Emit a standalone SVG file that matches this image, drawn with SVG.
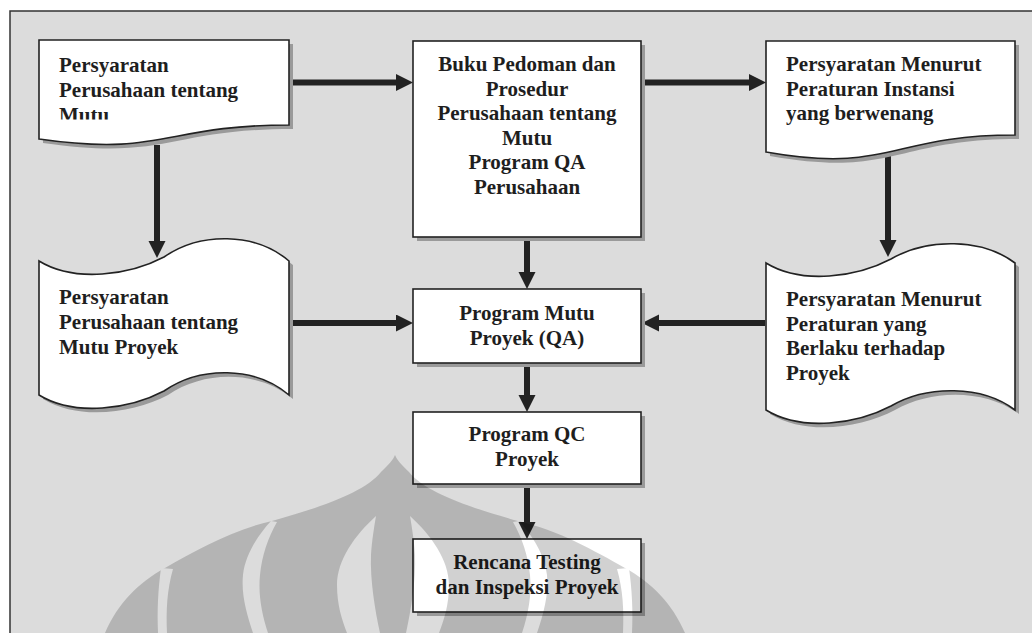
<svg xmlns="http://www.w3.org/2000/svg" width="1032" height="633" viewBox="0 0 1032 633">
  <style>
    .shape { fill: #ffffff; stroke: #222222; stroke-width: 1.6; }
    .shade { fill: #9a9a9a; }
    .label { font-family: "Liberation Serif", "Times New Roman", serif; font-weight: bold; font-size: 21px; fill: #1e1e1e; }
    .mid { text-anchor: middle; }
    .flow { stroke: #222222; stroke-width: 6; fill: none; }
  </style>
  <defs>
    <marker id="head" markerUnits="userSpaceOnUse" markerWidth="18" markerHeight="18" refX="0" refY="8.5" orient="auto">
      <path d="M0,0 L17,8.5 L0,17 Z" fill="#222222"/>
    </marker>
    <clipPath id="doc1-clip">
      <rect x="39" y="40" width="250" height="79.5"/>
    </clipPath>
    <!-- cut-outs of the emblem: light bands between the petals -->
    <mask id="emblem-cut">
      <rect x="0" y="0" width="1032" height="633" fill="#fff"/>
      <path fill="#000" d="M161,568 C158,590 157,610 158,633 L167,633 C166,610 167,590 173,569 Z"/>
      <path fill="#000" d="M629,568 C632,590 633,610 632,633 L623,633 C624,610 623,590 617,569 Z"/>
      <path fill="#000" d="M271,521 C258,535 245,555 243,575 C241,595 247,615 253,633 L268,633 C262,615 258,595 260,575 C262,555 268,538 277,522 Z"/>
      <path fill="#000" d="M519,521 C532,535 545,555 547,575 C549,595 543,615 537,633 L522,633 C528,615 532,595 530,575 C528,555 522,538 513,522 Z"/>
      <path fill="#000" d="M376,516 C355,535 337,560 337,585 C337,605 342,620 347,633 L380,633 C375,610 370,580 371,555 C372,540 374,528 376,516 Z"/>
      <path fill="#000" d="M410,516 C412,528 414,540 415,555 C416,580 411,610 406,633 L439,633 C444,620 449,605 449,585 C449,560 431,535 410,516 Z"/>
    </mask>
  </defs>

  <!-- page and frame -->
  <rect x="0" y="0" width="1032" height="633" fill="#ffffff"/>
  <rect x="10" y="11" width="1040" height="640" fill="#dcdcdc" stroke="#333333" stroke-width="1.5"/>

  <!-- connectors -->
  <g id="connectors">
    <line class="flow" x1="290" y1="82.5" x2="396" y2="82.5" marker-end="url(#head)"/>
    <line class="flow" x1="642" y1="82.5" x2="749" y2="82.5" marker-end="url(#head)"/>
    <line class="flow" x1="157" y1="145" x2="157" y2="241" marker-end="url(#head)"/>
    <line class="flow" x1="888" y1="156" x2="888" y2="240" marker-end="url(#head)"/>
    <line class="flow" x1="527" y1="238" x2="527" y2="272" marker-end="url(#head)"/>
    <line class="flow" x1="290" y1="323" x2="396" y2="323" marker-end="url(#head)"/>
    <line class="flow" x1="765" y1="323" x2="659" y2="323" marker-end="url(#head)"/>
    <line class="flow" x1="527" y1="364" x2="527" y2="395" marker-end="url(#head)"/>
    <line class="flow" x1="527" y1="485" x2="527" y2="522" marker-end="url(#head)"/>
  </g>

  <!-- company quality requirements (document) -->
  <g id="doc-company-quality">
    <path class="shade" transform="translate(4,4)" d="M39,40 H289 V125 C164,125 164,157 39,139 Z"/>
    <path class="shape" d="M39,40 H289 V125 C164,125 164,157 39,139 Z"/>
    <g clip-path="url(#doc1-clip)">
      <text class="label" x="59" y="71.5">Persyaratan</text>
      <text class="label" x="59" y="96.5">Perusahaan tentang</text>
      <text class="label" x="59" y="121.5">Mutu</text>
    </g>
  </g>

  <!-- company manual and procedures -->
  <g id="box-manual">
    <rect class="shade" x="417" y="45" width="228" height="196"/>
    <rect class="shape" x="413" y="41" width="228" height="196"/>
    <text class="label mid" x="527" y="71">Buku Pedoman dan</text>
    <text class="label mid" x="527" y="95.5">Prosedur</text>
    <text class="label mid" x="527" y="120">Perusahaan tentang</text>
    <text class="label mid" x="527" y="144.5">Mutu</text>
    <text class="label mid" x="527" y="169">Program QA</text>
    <text class="label mid" x="527" y="193.5">Perusahaan</text>
  </g>

  <!-- authority regulations (document) -->
  <g id="doc-authority">
    <path class="shade" transform="translate(4,4)" d="M766,41 H1015 V135 C890,135 890,174 766,152 Z"/>
    <path class="shape" d="M766,41 H1015 V135 C890,135 890,174 766,152 Z"/>
    <text class="label" x="786" y="71">Persyaratan Menurut</text>
    <text class="label" x="786" y="95.5">Peraturan Instansi</text>
    <text class="label" x="786" y="120">yang berwenang</text>
  </g>

  <!-- project quality requirements (tape) -->
  <g id="tape-project-quality">
    <path class="shade" transform="translate(4,4)" d="M39,261 C75,283 130,275 164,257 C200,232 255,232 289,261 V395 C255,366 200,366 164,391 C130,409 75,417 39,395 Z"/>
    <path class="shape" d="M39,261 C75,283 130,275 164,257 C200,232 255,232 289,261 V395 C255,366 200,366 164,391 C130,409 75,417 39,395 Z"/>
    <text class="label" x="59" y="304">Persyaratan</text>
    <text class="label" x="59" y="329">Perusahaan tentang</text>
    <text class="label" x="59" y="354">Mutu Proyek</text>
  </g>

  <!-- project regulations (tape) -->
  <g id="tape-project-regulations">
    <path class="shade" transform="translate(4,4)" d="M766,263 C802,285 857,277 891,259 C927,238 982,238 1015,263 V410 C982,385 927,385 891,406 C857,424 802,432 766,410 Z"/>
    <path class="shape" d="M766,263 C802,285 857,277 891,259 C927,238 982,238 1015,263 V410 C982,385 927,385 891,406 C857,424 802,432 766,410 Z"/>
    <text class="label" x="786" y="306">Persyaratan Menurut</text>
    <text class="label" x="786" y="330.5">Peraturan yang</text>
    <text class="label" x="786" y="355">Berlaku terhadap</text>
    <text class="label" x="786" y="379.5">Proyek</text>
  </g>

  <!-- project quality programme -->
  <g id="box-qa">
    <rect class="shade" x="417" y="293" width="228" height="74"/>
    <rect class="shape" x="413" y="289" width="228" height="74"/>
    <text class="label mid" x="527" y="320">Program Mutu</text>
    <text class="label mid" x="527" y="345">Proyek (QA)</text>
  </g>

  <!-- project QC programme -->
  <g id="box-qc">
    <rect class="shade" x="417" y="416" width="228" height="72"/>
    <rect class="shape" x="413" y="412" width="228" height="72"/>
    <text class="label mid" x="527" y="441">Program QC</text>
    <text class="label mid" x="527" y="466">Proyek</text>
  </g>

  <!-- testing and inspection plan -->
  <g id="box-testing">
    <rect class="shade" x="417" y="543" width="228" height="73"/>
    <rect class="shape" x="413" y="539" width="228" height="73" stroke-width="2.6"/>
    <text class="label mid" x="527" y="569">Rencana Testing</text>
    <text class="label mid" x="527" y="594">dan Inspeksi Proyek</text>
  </g>

  <!-- translucent emblem across the lower part -->
  <path id="emblem" fill="#000" fill-opacity="0.18" mask="url(#emblem-cut)"
        d="M105,633 C118,603 138,583 165,568 C195,551 232,530 272,521 C322,507 365,492 381,472 C389,464 393,460 395,455 C397,460 401,464 409,472 C425,492 468,507 518,521 C558,530 595,551 625,568 C652,583 672,603 685,633 Z"/>
</svg>
